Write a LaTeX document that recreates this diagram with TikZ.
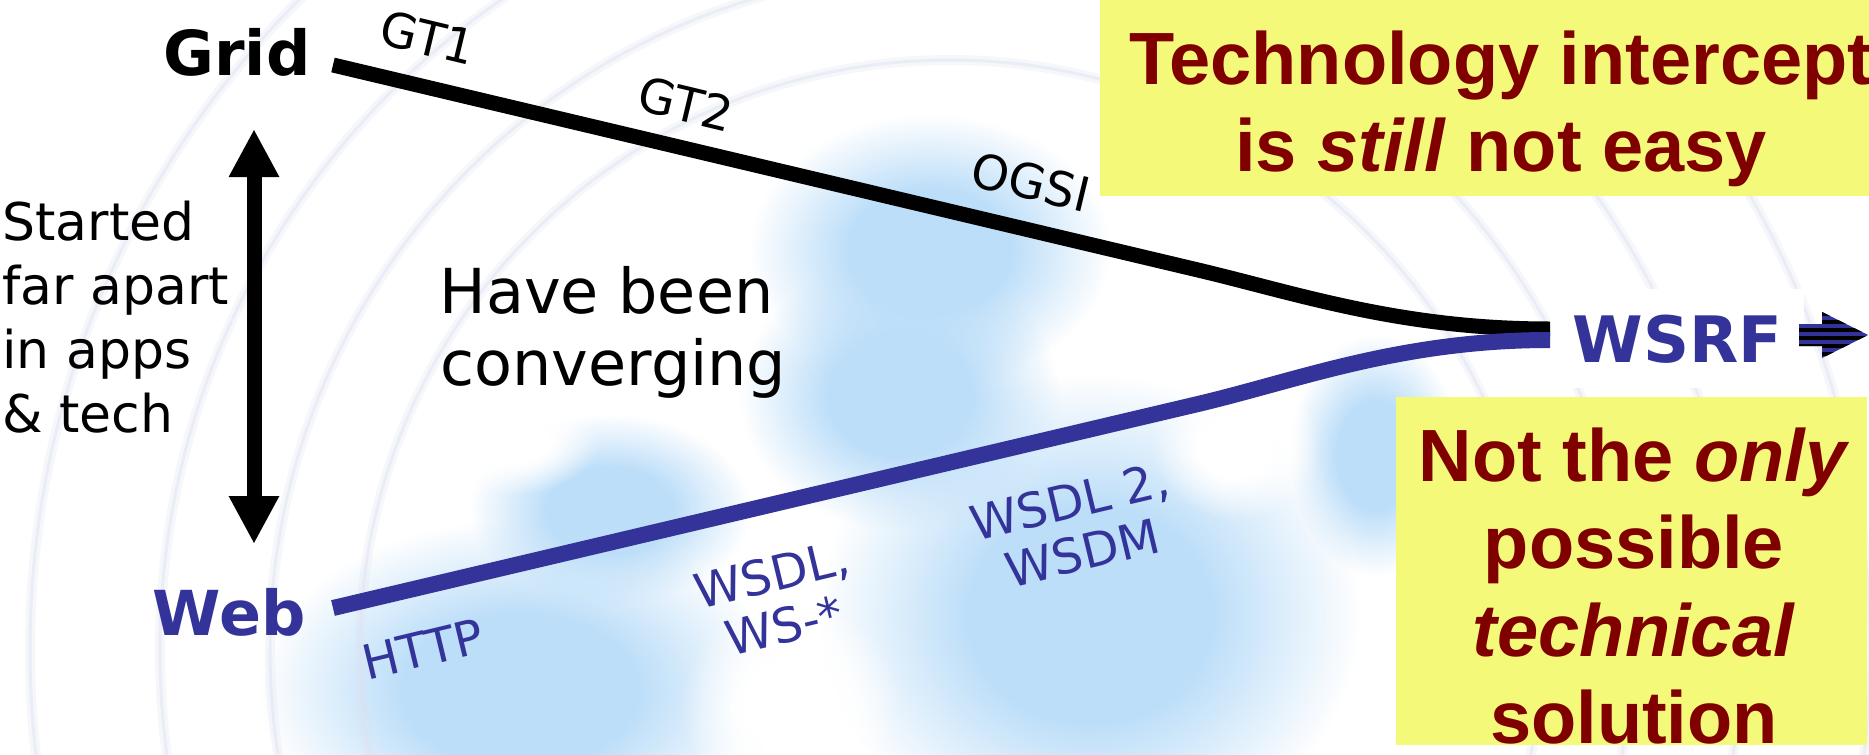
\documentclass[tikz,border=0pt]{standalone}
\usepackage{fontspec}
\setmainfont{DejaVu Sans}
\newfontfamily\arialfont{Liberation Sans}
\usetikzlibrary{arrows.meta,fadings}

\definecolor{webblue}{RGB}{51,51,153}
\definecolor{notered}{RGB}{128,0,0}
\definecolor{noteyellow}{RGB}{244,249,122}
\definecolor{skyb}{RGB}{188,222,249}
\definecolor{swirl}{RGB}{222,225,240}

% soft-edged radial mask for the cloudy background patches
\pgfdeclareradialshading{softblobshade}{\pgfpointorigin}{color(0bp)=(white); color(11bp)=(white); color(25bp)=(black); color(50bp)=(black)}
\pgfdeclarefading{softblob}{\pgfuseshading{softblobshade}}

\tikzset{
  blob/.style={fill=skyb, path fading=softblob},
  hole/.style={fill=white, path fading=softblob},
  swirlwide/.style={draw=swirl, line width=5pt, opacity=.25},
  swirlthin/.style={draw=swirl, line width=1.5pt, opacity=.45},
  track/.style={line width=7.5pt},
  lbl/.style={inner sep=0, font=\fontsize{24}{26.5}\selectfont},
  endpoint/.style={anchor=base east, inner sep=0, font=\bfseries\fontsize{31}{36}\selectfont},
  side/.style={anchor=base west, inner sep=0, font=\fontsize{26}{32}\selectfont},
  big/.style={anchor=base west, inner sep=0, font=\fontsize{31}{36}\selectfont},
  note/.style={fill=noteyellow},
  notetext/.style={anchor=base, inner sep=0, text=notered,
    font=\arialfont\bfseries\fontsize{37}{44}\selectfont},
  spantip/.tip={Triangle[length=24pt,width=23.5pt]},
}

\begin{document}
\begin{tikzpicture}[x=0.5pt,y=-0.5pt]
\useasboundingbox (0,0) rectangle (1869,755);
\clip (0,0) rectangle (1869,755);
\fill[white] (0,0) rectangle (1869,755);

% cloudy sky-blue background
\fill[blob] (930,250) ellipse [x radius=180, y radius=135];
\fill[blob] (900,395) ellipse [x radius=160, y radius=135];
\fill[blob] (610,510) ellipse [x radius=140, y radius=95];
\fill[blob] (520,690) ellipse [x radius=260, y radius=170];
\fill[blob] (1090,615) ellipse [x radius=270, y radius=240];
\fill[blob] (1375,455) ellipse [x radius=85, y radius=120];
\fill[hole] (790,705) ellipse [x radius=110, y radius=110];
\fill[hole] (510,440) ellipse [x radius=90, y radius=55];
\fill[hole] (1235,445) ellipse [x radius=85, y radius=75];

% faint swirl rings
\foreach \r in {590,680,790,920} {
  \draw[swirlwide] (950,650) circle [radius=\r];
  \draw[swirlthin] (950,650) circle [radius=\r];
}

% text blocks
\node[endpoint] (grid) at (311,75) {Grid};
\node[endpoint, text=webblue] (web) at (306,635) {Web};

\node[side] (s1) at (2,240) {Started};
\node[side] (s2) at (2,304) {far apart};
\node[side] (s3) at (2,368) {in apps};
\node[side] (s4) at (2,432) {\& tech};

\node[big] (conv1) at (439,313) {Have been};
\node[big] (conv2) at (440,385) {converging};

% WSRF target with its white backing
\node[fill=white, text=webblue, anchor=base west, inner xsep=11pt,
      minimum height=49.5pt, font=\bfseries\fontsize{32}{38}\selectfont]
      (wsrf) at (1550,362) {WSRF};

% end points of the two tracks
\coordinate (gridtail) at (333,65);
\coordinate (gridbend) at (1198,270);
\coordinate (gridhead) at (1550,329);
\coordinate (webtail) at (333,608);
\coordinate (webbend) at (1198,404);
\coordinate (webhead) at (1550,340);

\draw[track, black] (gridtail) -- (gridbend)
  .. controls +(100,23.7) and +(-150,0) .. (gridhead);
\draw[track, webblue, line width=8pt] (webtail) -- (webbend)
  .. controls +(100,-23.6) and +(-150,0) .. (webhead);

% labels along the tracks
\node[lbl, rotate=-13.5] (gt1) at (428,38) {GT1};
\node[lbl, rotate=-13.5] (gt2) at (686,104) {GT2};
\node[lbl, rotate=-13.5] (ogsi) at (1031,182) {OGSI};
\node[lbl, rotate=13.5, text=webblue] (http) at (423,649) {HTTP};
\node[lbl, rotate=13.5, text=webblue, align=center] (wsdl) at (778,600) {WSDL,\\WS-*};
\node[lbl, rotate=13.5, text=webblue, align=center] (wsdm) at (1076,527) {WSDL 2,\\WSDM};

% vertical span arrow
\coordinate (spantop) at (254,129);
\coordinate (spanbottom) at (254,544);
\draw[line width=7.5pt, spantip-spantip] (spantop) -- (spanbottom);

% striped arrow after WSRF
\begin{scope}
  \clip (1799,324) -- (1822,324) -- (1822,312) -- (1868,335)
        -- (1822,358) -- (1822,346) -- (1799,346) -- cycle;
  \fill[webblue] (1795,305) rectangle (1869,365);
  \foreach \y in {312,320,...,356}
    \fill[black] (1795,\y) rectangle (1869,\y+4);
\end{scope}

% yellow notes
\fill[note] (1100,0) rectangle (1869,196);
\node[notetext] (n1a) at (1501,84) {Technology intercept};
\node[notetext] (n1b) at (1501,171) {is \textit{still} not easy};

\fill[note] (1396,397) rectangle (1867,745);
\node[notetext] (n2a) at (1634,481) {Not the \textit{only}};
\node[notetext] (n2b) at (1634,568) {possible};
\node[notetext] (n2c) at (1634,656) {\textit{technical}};
\node[notetext] (n2d) at (1634,743) {solution};
\end{tikzpicture}
\end{document}
